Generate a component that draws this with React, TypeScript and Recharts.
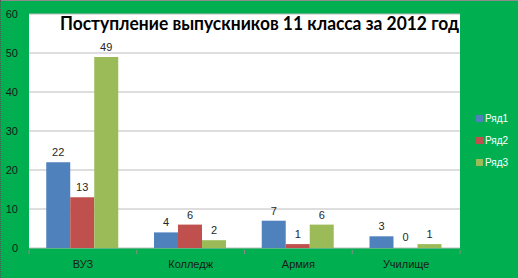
import React from 'react';
import { BarChart, Bar, XAxis, YAxis, CartesianGrid, LabelList, Rectangle } from 'recharts';

const categories = ['ВУЗ', 'Колледж', 'Армия', 'Училище'];
const series1 = [22, 4, 7, 3];
const series2 = [13, 6, 1, 0];
const series3 = [49, 2, 6, 1];
const seriesNames = ['Ряд1', 'Ряд2', 'Ряд3'];
const seriesColors = ['#4F81BD', '#C0504D', '#9BBB59'];
const yTicks = [0, 10, 20, 30, 40, 50, 60];
const title = 'Поступление выпускников 11 класса за 2012 год';

const data = categories.map((name, i) => ({
  name,
  s1: series1[i],
  s2: series2[i],
  s3: series3[i],
}));

// category tick: label plus small marks on the category boundaries
const CategoryTick = (props: any) => {
  const { x, y, payload, index } = props;
  const half = payload && payload.offset ? payload.offset : 54;
  return (
    <g>
      {index === 0 && <line x1={x - half} y1={y} x2={x - half} y2={y + 4} stroke="#8c8c8c" />}
      <line x1={x + half} y1={y} x2={x + half} y2={y + 4} stroke="#8c8c8c" />
      <text x={x} y={y + 18} textAnchor="middle" fontSize={11} fill="#1a1a1a" fontFamily="'Liberation Sans', Arial, sans-serif">
        {payload.value}
      </text>
    </g>
  );
};

// zero values keep a label (via minPointSize) but draw no visible bar
const BarShape = (props: any) => {
  if (props.value === 0 || (Array.isArray(props.value) && props.value[1] - props.value[0] === 0)) return <g />;
  return <Rectangle {...props} />;
};

export default function App() {
  const keys = ['s1', 's2', 's3'];
  return (
    <div style={{ position: 'absolute', left: 0, top: 0, width: 518, height: 278, background: '#00B050', overflow: 'hidden' }}>
      <div style={{ position: 'absolute', left: 0, top: 0, width: 518, height: 1, background: '#8c8c8c' }} />
      <div style={{ position: 'absolute', left: 0, top: 0, width: 1, height: 278, borderLeft: '1px dotted #555' }} />
      <BarChart
        width={518}
        height={278}
        data={data}
        margin={{ top: 14, right: 58, left: 0, bottom: 0 }}
        barCategoryGap="16%"
        barGap={0}
      >
        <CartesianGrid vertical={false} stroke="#bcbcbc" fill="#ffffff" />
        <XAxis
          dataKey="name"
          height={30}
          axisLine={false}
          tickLine={false}
          tickSize={0}
          tick={<CategoryTick />}
          interval={0}
        />
        <YAxis
          width={29}
          domain={[0, 60]}
          ticks={yTicks}
          axisLine={false}
          tickLine={false}
          tickSize={0}
          tickMargin={11}
          tick={{ fontSize: 11, fill: '#1a1a1a', fontFamily: "'Liberation Sans', Arial, sans-serif" }}
        />
        {keys.map((k, i) => (
          <Bar
            key={k}
            dataKey={k}
            name={seriesNames[i]}
            fill={seriesColors[i]}
            minPointSize={1}
            shape={BarShape}
            isAnimationActive={false}
          >
            <LabelList
              dataKey={k}
              position="top"
              offset={6}
              fill="#262626"
              fontSize={11}
              fontFamily="'Liberation Sans', Arial, sans-serif"
            />
          </Bar>
        ))}
      </BarChart>
      <svg style={{ position: 'absolute', left: 0, top: 0 }} width={518} height={40}>
        <text
          x={60}
          y={30}
          textLength={399}
          lengthAdjust="spacingAndGlyphs"
          fontSize={19}
          fontWeight="bold"
          fill="#000"
          fontFamily="'Lato', 'Open Sans', sans-serif"
        >
          {title}
        </text>
      </svg>
      <div style={{ position: 'absolute', left: 476, top: 111, fontFamily: "'Liberation Sans', Arial, sans-serif", fontSize: 10, color: '#ffffff' }}>
        {seriesNames.map((n, i) => (
          <div key={n} style={{ display: 'flex', alignItems: 'center', height: 14, marginBottom: 8 }}>
            <span style={{ display: 'inline-block', width: 7, height: 7, background: seriesColors[i], marginRight: 2 }} />
            <span>{n}</span>
          </div>
        ))}
      </div>
    </div>
  );
}
